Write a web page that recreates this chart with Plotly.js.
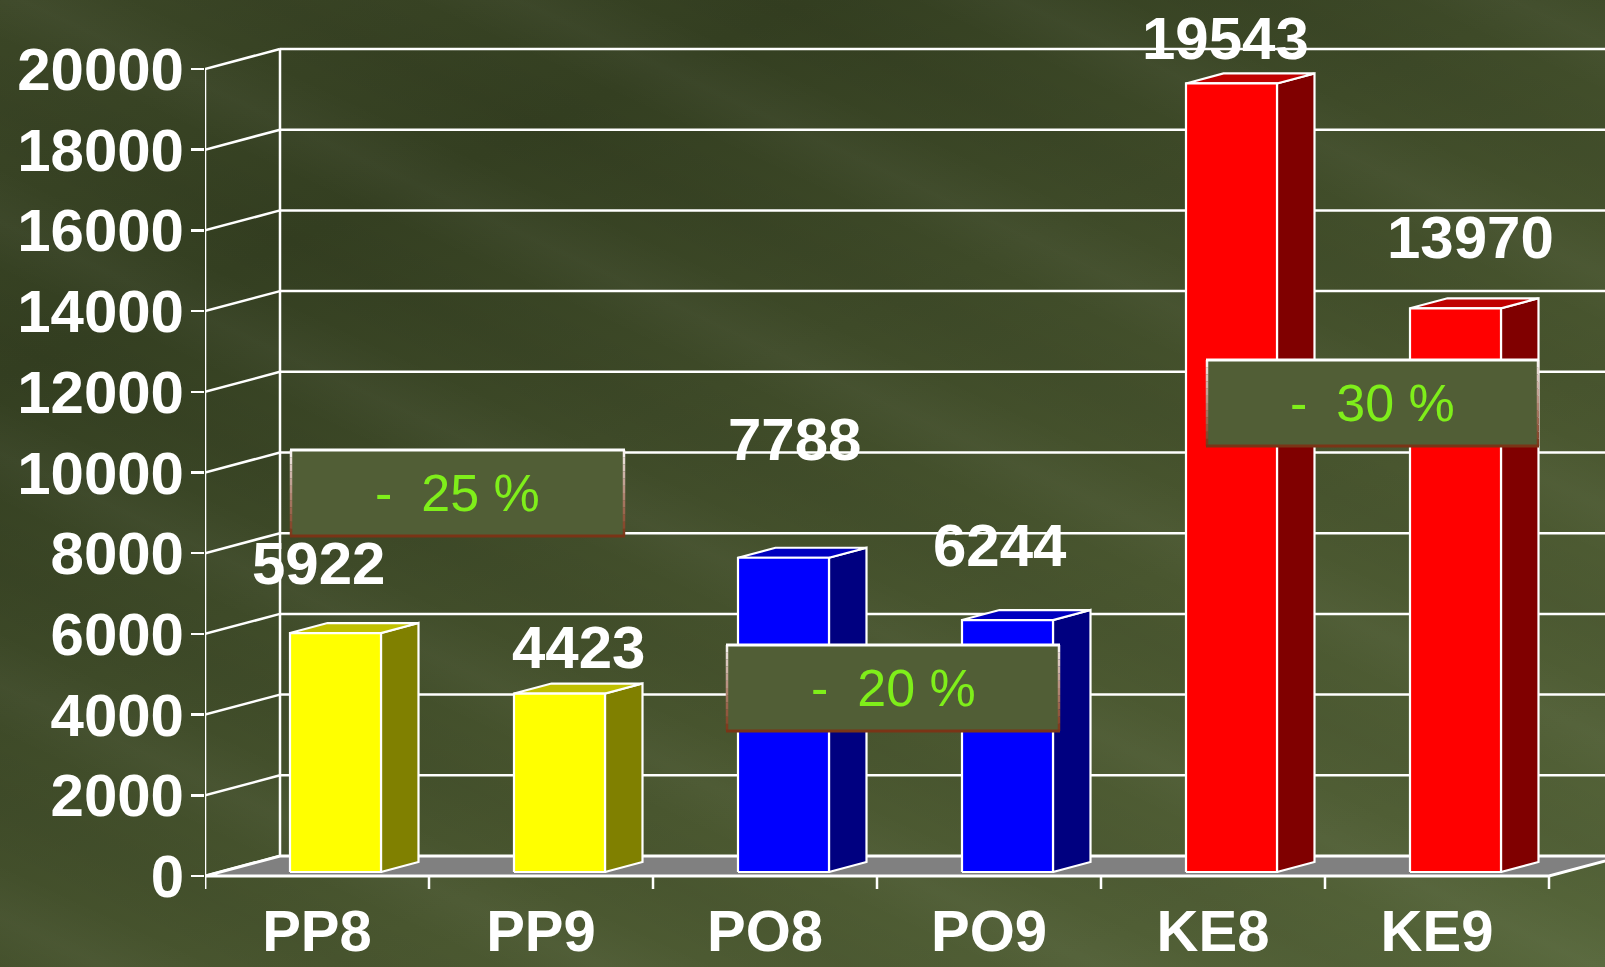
<!DOCTYPE html>
<html>
<head>
<meta charset="utf-8">
<script src="https://cdn.plot.ly/plotly-3.0.1.min.js"></script>
<style>
  html, body { margin: 0; padding: 0; }
  body {
    width: 1605px; height: 967px; overflow: hidden;
    background:
      repeating-linear-gradient(25deg, rgba(255,255,255,0) 0px, rgba(255,255,255,0.03) 45px, rgba(255,255,255,0) 95px, rgba(0,0,0,0.03) 150px, rgba(255,255,255,0) 210px),
      linear-gradient(155deg, #3b4626 0%, #343f21 22%, #3e4a28 42%, #49562f 65%, #505e35 85%, #56663a 100%);
  }
  #chart { width: 1605px; height: 967px; }
</style>
</head>
<body>
<div id="chart"></div>
<script>
// ---- data ----
const categories = ['PP8', 'PP9', 'PO8', 'PO9', 'KE8', 'KE9'];
const values = [5922, 4423, 7788, 6244, 19543, 13970];
const changeLabels = ['-\u00a0\u00a025 %', '-\u00a0\u00a020 %', '-\u00a0\u00a030 %'];
const yTickValues = [0, 2000, 4000, 6000, 8000, 10000, 12000, 14000, 16000, 18000, 20000];

// ---- styles ----
const frontColors = ['#FFFF00', '#FFFF00', '#0000FF', '#0000FF', '#FF0000', '#FF0000'];
const sideColors  = ['#808000', '#808000', '#000080', '#000080', '#800000', '#800000'];
const topColors   = ['#C0C000', '#C0C000', '#0000C0', '#0000C0', '#C00000', '#C00000'];
// value label offsets (px) relative to the bar top
const labelShiftX = [1.5, 37.5, 29.5, 10.5, 12.5, 33.5];
const labelShiftY = [74, 50, 122, 79, 49, 75];
// percent boxes in page pixels [left, top, right, bottom]
const boxRects = [[291, 450, 624, 536], [727, 645, 1059, 731], [1207, 360, 1538, 446]];

// ---- geometry (px based) ----
const W = 1605, H = 967;
const ML = 205, MR = 0, MT = 20, MB = 72;
const CAT_PX = 224;                 // one category in px
const PX_PER_UNIT = 807 / 20000;    // value scale
const ZERO_PX = 876;                // y-pixel of value 0 at the front
const DX = 75 / CAT_PX;             // depth offset in category units
const DY = 20 / PX_PER_UNIT;        // depth offset in value units
const FRONT_LEFT = 85 / CAT_PX;     // bar front face left from category start
const BAR_W = 91 / CAT_PX;
const BAR_D0 = 0.2, BAR_D = 0.5;    // bar depth start/size (fraction of floor depth)

const xRange = [-0.5, -0.5 + (W - ML - MR) / CAT_PX];
const yRange = [(ZERO_PX - (H - MB)) / PX_PER_UNIT, (ZERO_PX - MT) / PX_PER_UNIT];

const WHITE = '#FFFFFF';
const traces = [];
function poly(xs, ys, fill, lw) {
  traces.push({
    type: 'scatter', mode: 'lines', x: xs.concat([xs[0]]), y: ys.concat([ys[0]]),
    fill: 'toself', fillcolor: fill, line: { color: WHITE, width: lw === undefined ? 2 : lw },
    hoverinfo: 'skip', showlegend: false
  });
}
function lines(segs, lw) {
  const xs = [], ys = [];
  segs.forEach(s => { xs.push(s[0], s[2], null); ys.push(s[1], s[3], null); });
  traces.push({
    type: 'scatter', mode: 'lines', x: xs, y: ys,
    line: { color: WHITE, width: lw || 2 }, hoverinfo: 'skip', showlegend: false
  });
}

const nCat = categories.length;
const xFront0 = -0.5, xFrontEnd = nCat - 0.5;
const xBack0 = xFront0 + DX;

// back wall gridlines + left wall edge + diagonals
const gridSegs = [];
yTickValues.forEach(t => {
  if (t > 0) gridSegs.push([xBack0, t + DY, xRange[1] + 1, t + DY]);
  gridSegs.push([xFront0, t, xBack0, t + DY]);
});
gridSegs.push([xBack0, DY, xBack0, yTickValues[yTickValues.length - 1] + DY]);
lines(gridSegs, 2.5);

// floor
poly([xFront0, xFrontEnd, xFrontEnd + DX, xBack0], [0, 0, DY, DY], '#808080', 3);

// front axis line and category boundary ticks
const tickDown = -13 / PX_PER_UNIT;
const axisSegs = [[xFront0, tickDown, xFront0, yTickValues[yTickValues.length - 1]]];
for (let k = 0; k <= nCat; k++) axisSegs.push([k - 0.5, 0, k - 0.5, tickDown]);
lines(axisSegs, 2.5);

// 3D bars
values.forEach((v, k) => {
  const x0 = k - 0.5 + FRONT_LEFT, x1 = x0 + BAR_W;
  const b0 = BAR_D0 * DY;
  const ddx = BAR_D * DX, ddy = BAR_D * DY;
  poly([x1, x1 + ddx, x1 + ddx, x1], [b0, b0 + ddy, v + b0 + ddy, v + b0], sideColors[k], 2.2);
  poly([x0, x1, x1 + ddx, x0 + ddx], [v + b0, v + b0, v + b0 + ddy, v + b0 + ddy], topColors[k], 2.2);
  poly([x0, x1, x1, x0], [b0, b0, v + b0, v + b0], frontColors[k], 2.2);
});

const FONT = 'Liberation Sans, Arial, Helvetica, sans-serif';
const annotations = values.map((v, k) => ({
  x: k, y: v, xref: 'x', yref: 'y', text: String(v), showarrow: false,
  xanchor: 'center', yanchor: 'middle', xshift: labelShiftX[k], yshift: labelShiftY[k],
  font: { family: FONT, size: 60, color: WHITE, weight: 700 }
}));

// percent boxes (paper coords)
const px2paperX = px => (px - ML) / (W - ML - MR);
const px2paperY = py => ((H - MB) - py) / (H - MT - MB);
const shapes = [];
function lerpColor(a, b, t) {
  const pa = [parseInt(a.slice(1,3),16), parseInt(a.slice(3,5),16), parseInt(a.slice(5,7),16)];
  const pb = [parseInt(b.slice(1,3),16), parseInt(b.slice(3,5),16), parseInt(b.slice(5,7),16)];
  return 'rgb(' + pa.map((c, i) => Math.round(c + (pb[i] - c) * t)).join(',') + ')';
}
boxRects.forEach((r, i) => {
  const [l, t, rr, b] = r;
  shapes.push({ type: 'rect', xref: 'paper', yref: 'paper', layer: 'above',
    x0: px2paperX(l), x1: px2paperX(rr), y0: px2paperY(b), y1: px2paperY(t),
    fillcolor: '#515e36', line: { width: 0 } });
  const N = 12;
  for (let s = 0; s < N; s++) {
    const ya = t + (b - t) * s / N, yb = t + (b - t) * (s + 1) / N;
    const col = lerpColor('#FFFFFF', '#7A3416', Math.pow((s + 0.5) / N, 0.8));
    [l, rr].forEach(xx => shapes.push({ type: 'line', xref: 'paper', yref: 'paper', layer: 'above',
      x0: px2paperX(xx), x1: px2paperX(xx), y0: px2paperY(ya), y1: px2paperY(yb),
      line: { color: col, width: 2.5 } }));
  }
  shapes.push({ type: 'line', xref: 'paper', yref: 'paper', layer: 'above',
    x0: px2paperX(l - 1), x1: px2paperX(rr + 1), y0: px2paperY(t), y1: px2paperY(t),
    line: { color: '#FFFFFF', width: 3 } });
  shapes.push({ type: 'line', xref: 'paper', yref: 'paper', layer: 'above',
    x0: px2paperX(l - 1), x1: px2paperX(rr + 1), y0: px2paperY(b), y1: px2paperY(b),
    line: { color: '#7A3416', width: 3 } });
  annotations.push({
    xref: 'paper', yref: 'paper', x: px2paperX((l + rr) / 2), y: px2paperY((t + b) / 2),
    text: changeLabels[i], showarrow: false, xanchor: 'center', yanchor: 'middle',
    font: { family: FONT, size: 52, color: '#7FEE1A' }
  });
});

const layout = {
  width: W, height: H,
  margin: { l: ML, r: MR, t: MT, b: MB, pad: 0 },
  paper_bgcolor: 'rgba(0,0,0,0)', plot_bgcolor: 'rgba(0,0,0,0)',
  showlegend: false,
  xaxis: {
    range: xRange, showgrid: false, zeroline: false, showline: false,
    tickmode: 'array', tickvals: categories.map((c, k) => k), ticktext: categories,
    ticks: '', ticklabelstandoff: -3,
    tickfont: { family: FONT, size: 58, color: WHITE, weight: 700 }, fixedrange: true
  },
  yaxis: {
    range: yRange, showgrid: false, zeroline: false, showline: false,
    tickmode: 'array', tickvals: yTickValues, ticktext: yTickValues.map(String),
    ticks: 'outside', ticklen: 13, tickwidth: 2.5, tickcolor: WHITE, ticklabelstandoff: -5,
    tickfont: { family: FONT, size: 60, color: WHITE, weight: 700 }, fixedrange: true
  },
  shapes: shapes,
  annotations: annotations
};

Plotly.newPlot('chart', traces, layout, { displayModeBar: false, staticPlot: true });
</script>
</body>
</html>
